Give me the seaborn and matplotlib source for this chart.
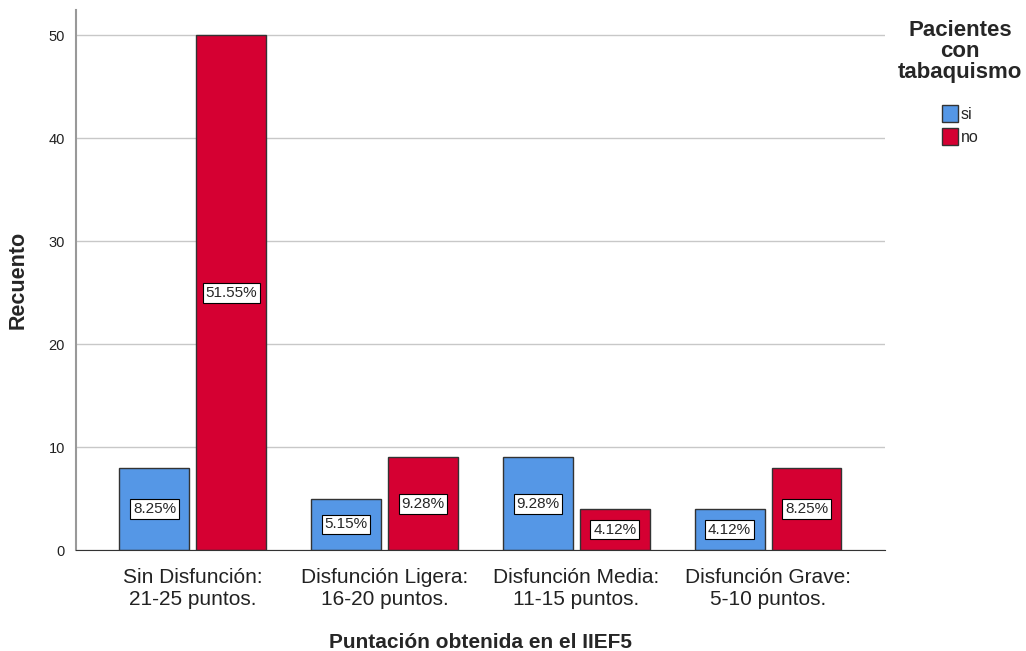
import matplotlib
matplotlib.use("Agg")
import matplotlib.pyplot as plt
import seaborn as sns
import pandas as pd

sns.set_style("white")
plt.rcParams['font.family'] = ['Liberation Sans', 'DejaVu Sans']

categories = ["Sin Disfunción:\n21-25 puntos.", "Disfunción Ligera:\n16-20 puntos.",
              "Disfunción Media:\n11-15 puntos.", "Disfunción Grave:\n5-10 puntos."]
groups = ["si", "no"]
counts_si = [8, 5, 9, 4]
counts_no = [50, 9, 4, 8]
colors = {"si": "#5597E6", "no": "#D50032"}

df = pd.DataFrame({
    "categoria": categories * 2,
    "tabaquismo": ["si"] * 4 + ["no"] * 4,
    "recuento": counts_si + counts_no,
})
total = df["recuento"].sum()

fig = plt.figure(figsize=(10.26, 6.51), dpi=100)
ax = fig.add_axes([0.074, 0.155, 0.7886, 0.83])

sns.barplot(data=df, x="categoria", y="recuento", hue="tabaquismo",
            hue_order=groups, palette=colors, width=0.802, gap=0.09,
            edgecolor="#333333", linewidth=1, saturation=1, ax=ax)

for cont, grp in zip(ax.containers, groups):
    vals = df.loc[df["tabaquismo"] == grp, "recuento"].tolist()
    labels = [f"{v / total * 100:.2f}%" for v in vals]
    ax.bar_label(cont, labels=labels, label_type="center", fontsize=11,
                 bbox=dict(facecolor="white", edgecolor="black", pad=2, linewidth=0.8))

ax.set_xlim(-0.61, 3.61)
ax.set_ylim(0, 52.5)
ax.set_yticks([0, 10, 20, 30, 40, 50])
ax.yaxis.grid(True, color="#c8c8c8", linewidth=1)
ax.set_axisbelow(True)
ax.tick_params(axis="y", labelsize=10.5, length=0, pad=8, colors="#222222")
ax.tick_params(axis="x", labelsize=15, length=0, pad=13, colors="#222222")
ax.set_xlabel("Puntación obtenida en el IIEF5", fontsize=15, fontweight="bold", labelpad=17)
ax.set_ylabel("Recuento", fontsize=15.5, fontweight="bold", labelpad=14)

for s in ["top", "right"]:
    ax.spines[s].set_visible(False)
ax.spines["left"].set_color("#999999")
ax.spines["left"].set_linewidth(1.5)
ax.spines["bottom"].set_color("#333333")

handles, _ = ax.get_legend_handles_labels()
leg = ax.legend(handles, groups, title="Pacientes\ncon\ntabaquismo",
                loc="upper left", bbox_to_anchor=(1.0, 1.005), frameon=False,
                fontsize=11.5, title_fontproperties={"weight": "bold", "size": 16},
                handlelength=1.0, handleheight=1.3, handletextpad=0.2,
                labelspacing=0.35, borderpad=0.3)
leg.get_title().set_multialignment("center")
leg.get_title().set_linespacing(1.0)
leg._legend_box.sep = 16

fig.savefig("out.png", dpi=100)
